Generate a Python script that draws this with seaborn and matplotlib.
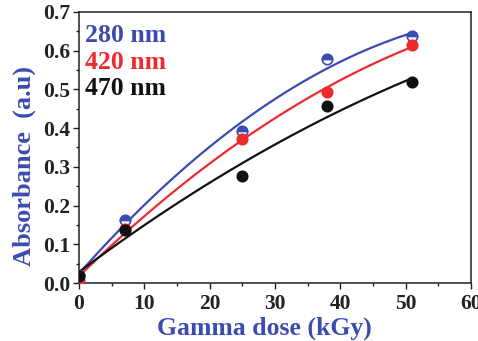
import numpy as np
import pandas as pd
import matplotlib
matplotlib.use("Agg")
import matplotlib.pyplot as plt
import seaborn as sns

dose = [0, 7, 25, 38, 51]
abs_280 = [0.02, 0.162, 0.393, 0.578, 0.638]
abs_420 = [0.008, 0.140, 0.372, 0.494, 0.615]
abs_470 = [0.018, 0.137, 0.276, 0.458, 0.520]
labels = ["280 nm", "420 nm", "470 nm"]
colors = ["#3b4bb0", "#ee2a2e", "#111111"]

sns.set_theme(style="ticks")
plt.rcParams['font.family'] = ['Liberation Serif', 'DejaVu Serif']

fig = plt.figure(figsize=(4.78, 3.41), dpi=100)
ax = fig.add_axes([0.165, 0.17, 0.82, 0.795])

series = [abs_280, abs_420, abs_470]
fills = ["top", "full", "full"]
for vals, lab, col, fs in zip(series, labels, colors, fills):
    coef = np.polyfit(dose, vals, 2)
    xs = np.linspace(0, 51, 100)
    fit = pd.DataFrame({"x": xs, "y": np.polyval(coef, xs)})
    sns.lineplot(data=fit, x="x", y="y", color=col, lw=1.6, ax=ax)
    ax.plot(dose, vals, "o", ms=7.5, color=col, fillstyle=fs,
            markerfacecoloralt="white", mec=col, mew=1.2, zorder=5)

ax.set_xlim(0, 60)
ax.set_ylim(0, 0.7)
ax.set_xticks(np.arange(0, 61, 10))
ax.set_xticks(np.arange(5, 60, 10), minor=True)
ax.set_yticks(np.arange(0, 0.71, 0.1))
ax.set_yticks(np.arange(0.05, 0.7, 0.1), minor=True)
ax.yaxis.set_major_formatter(matplotlib.ticker.FormatStrFormatter("%.1f"))
ax.tick_params(axis="both", which="major", length=4, width=1, labelsize=15.5, colors="#222222", pad=2)
ax.tick_params(axis="x", which="major", pad=4)
ax.tick_params(axis="both", which="minor", length=2.5, width=1, color="#222222")
for t in ax.get_xticklabels() + ax.get_yticklabels():
    t.set_fontweight("bold")
for s in ax.spines.values():
    s.set_linewidth(1.1)
    s.set_color("#222222")

ax.set_xlabel("Gamma dose (kGy)", fontsize=18.5, fontweight="bold", color="#3b4bb0", labelpad=1)
ax.xaxis.set_label_coords(0.473, -0.125)
ax.set_ylabel("Absorbance  (a.u)", fontsize=19, fontweight="bold", color="#3b4bb0")
ax.yaxis.set_label_coords(-0.11, 0.43)

for i, (lab, col) in enumerate(zip(labels, colors)):
    ax.text(0.015, 0.955 - i * 0.098, lab, transform=ax.transAxes, fontsize=18.5,
            fontweight="bold", color=col, va="top", ha="left")

fig.savefig("out.png", dpi=100)
